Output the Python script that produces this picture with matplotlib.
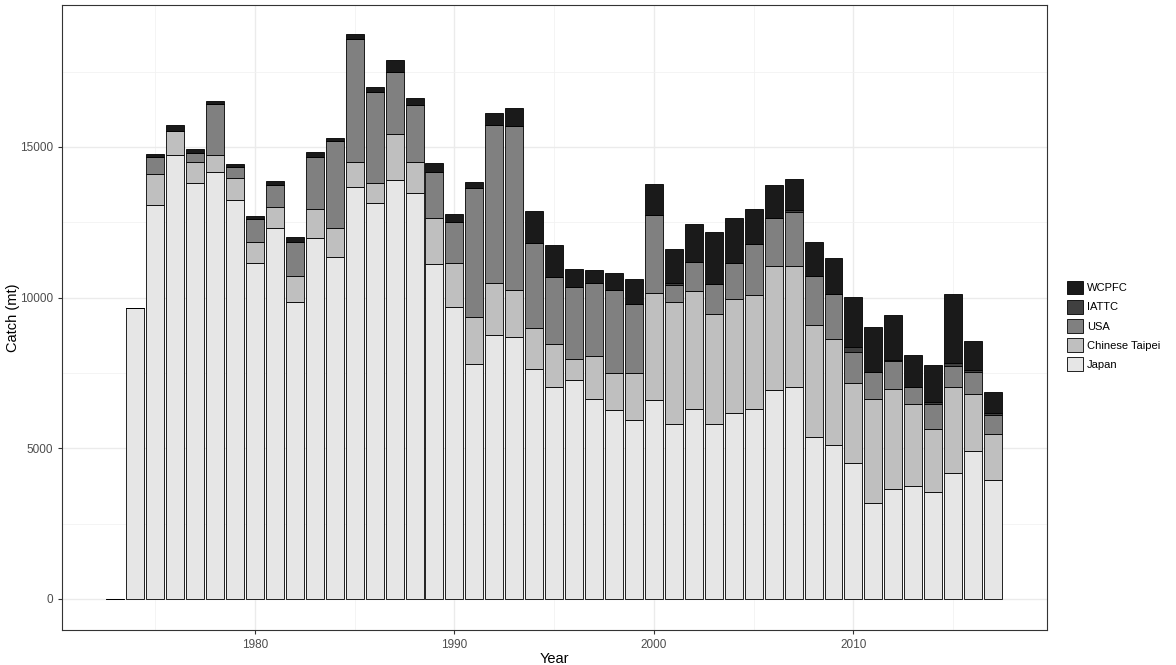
import matplotlib.pyplot as plt
import numpy as np

plt.rcParams['font.family'] = ['Liberation Sans', 'DejaVu Sans']

years = np.arange(1973, 2018)
japan = [0, 9650, 13080, 14720, 13810, 14170, 13230, 11140, 12300, 9850,
         11980, 11350, 13680, 13140, 13910, 13470, 11110, 9680, 7810, 8760,
         8700, 7640, 7030, 7260, 6630, 6270, 5950, 6610, 5820, 6300,
         5800, 6160, 6300, 6930, 7050, 5390, 5100, 4510, 3190, 3640,
         3760, 3540, 4170, 4920, 3950]
taipei = [0, 0, 1040, 820, 680, 550, 730, 700, 700, 880,
          950, 970, 830, 670, 1530, 1020, 1530, 1460, 1560, 1740,
          1570, 1360, 1420, 720, 1440, 1240, 1540, 3540, 4050, 3930,
          3670, 3810, 3790, 4110, 4000, 3690, 3520, 2670, 3440, 3330,
          2700, 2090, 2860, 1870, 1520]
usa = [0, 0, 560, 0, 320, 1700, 370, 770, 740, 1110,
       1740, 2890, 4090, 3020, 2050, 1910, 1520, 1360, 4270, 5230,
       5420, 2820, 2240, 2380, 2420, 2740, 2290, 2590, 540, 940,
       970, 1180, 1680, 1620, 1780, 1640, 1490, 1010, 890, 920,
       580, 840, 710, 740, 620]
iattc = [0] * 28 + [60, 0, 0, 0, 0, 0, 80, 0, 0, 160, 0, 50, 0, 80, 80, 70, 80]
wcpfc = [0, 0, 80, 190, 110, 110, 110, 110, 120, 160,
         180, 100, 150, 170, 390, 240, 310, 260, 190, 410,
         600, 1060, 1060, 600, 420, 570, 840, 1020, 1130, 1270,
         1730, 1500, 1160, 1080, 1030, 1140, 1200, 1660, 1510, 1490,
         1060, 1220, 2300, 960, 710]

series = [('Japan', japan, '#e6e6e6'),
          ('Chinese Taipei', taipei, '#bfbfbf'),
          ('USA', usa, '#808080'),
          ('IATTC', iattc, '#404040'),
          ('WCPFC', wcpfc, '#1a1a1a')]

fig = plt.figure(figsize=(11.76, 6.65), dpi=100)
ax = fig.add_axes([0.0527, 0.0526, 0.8376, 0.94])

bottom = np.zeros(len(years))
handles = []
for name, vals, col in series:
    vals = np.array(vals, dtype=float)
    b = ax.bar(years, vals, bottom=bottom, width=0.9, color=col,
               edgecolor='black', linewidth=0.6, label=name, zorder=3)
    handles.append(b)
    bottom += vals

ax.set_xlim(1970.33, 2019.7)
ax.set_ylim(-1030, 19715)
ax.set_xticks([1980, 1990, 2000, 2010])
ax.set_xticks([1975, 1985, 1995, 2005, 2015], minor=True)
ax.set_yticks([0, 5000, 10000, 15000])
ax.set_yticks([2500, 7500, 12500, 17500], minor=True)
ax.grid(which='major', color='#ebebeb', linewidth=1.0, zorder=0)
ax.grid(which='minor', color='#f2f2f2', linewidth=0.6, zorder=0)
ax.tick_params(which='major', length=3, color='#333333', labelsize=8.5, labelcolor='#4d4d4d')
ax.tick_params(which='minor', length=0)
for s in ax.spines.values():
    s.set_color('#333333')
    s.set_linewidth(0.8)

ax.set_xlabel('Year', fontsize=10.5, labelpad=1)
ax.set_ylabel('Catch (mt)', fontsize=10.5)
ax.yaxis.set_label_coords(-0.043, 0.5)

leg = fig.legend(handles[::-1], [s[0] for s in series][::-1],
                 loc='center left', bbox_to_anchor=(0.899, 0.51),
                 frameon=False, fontsize=8, handlelength=1.4, handleheight=1.5,
                 labelspacing=0.5, handletextpad=0.35)

fig.savefig('out.png', dpi=100)
